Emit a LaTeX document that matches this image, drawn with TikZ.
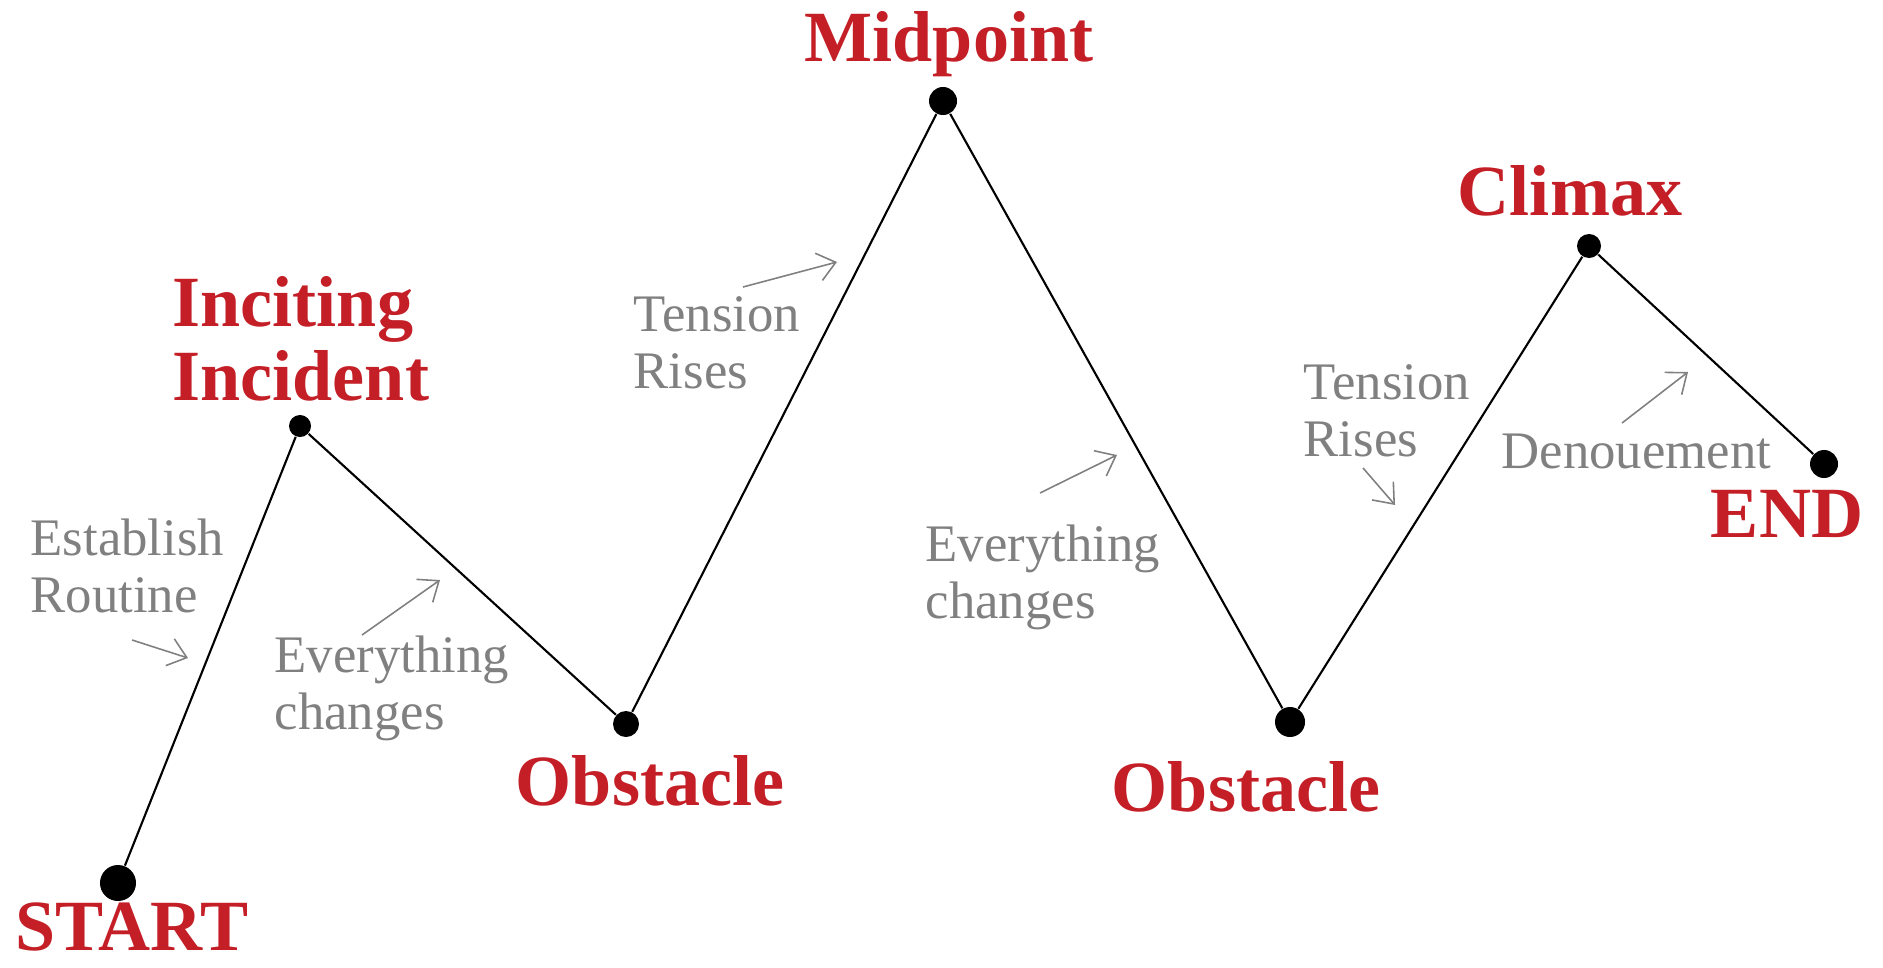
\documentclass[tikz,border=0pt]{standalone}
\usepackage{fontspec}
\setmainfont{Liberation Serif}
\usetikzlibrary{arrows.meta}

\definecolor{stagered}{RGB}{196,30,38}
\definecolor{notegray}{RGB}{128,128,128}

\begin{document}
\begin{tikzpicture}[x=0.01cm,y=-0.01cm,
dot/.style={circle,fill=black,inner sep=0pt,minimum size=#1},
stage/.style={text=stagered,font=\fontsize{20.5}{21}\selectfont\bfseries,inner sep=0pt,anchor=base},
note/.style={text=notegray,font=\fontsize{15}{16}\selectfont,inner sep=0pt,align=left,anchor=base west},
pointer/.style={draw=notegray,line width=0.45pt,-{Straight Barb[length=5pt,width=8pt]}}]
\useasboundingbox (0,0) rectangle (1883,967);

% plot points
\node[dot=0.36cm] (start) at (118,883) {};
\node[dot=0.22cm] (incite) at (300,426) {};
\node[dot=0.26cm] (obst1) at (626,724) {};
\node[dot=0.28cm] (mid) at (943,101) {};
\node[dot=0.30cm] (obst2) at (1290,722) {};
\node[dot=0.24cm] (climax) at (1589,246) {};
\node[dot=0.28cm] (finish) at (1824,464) {};
\draw[line width=0.6pt] (start)--(incite)--(obst1)--(mid)--(obst2)--(climax)--(finish);

% stage names (base = last line)
\node[stage] (startlbl) at (132,950) {START};
\node[stage,anchor=base west,align=left] (incitelbl) at (172,400) {Inciting\\Incident};
\node[stage] (obst1lbl) at (650,805) {Obstacle};
\node[stage] (midlbl) at (949,62) {Midpoint};
\node[stage] (obst2lbl) at (1246,811) {Obstacle};
\node[stage] (climaxlbl) at (1570,216) {Climax};
\node[stage] (finishlbl) at (1787,537) {END};

% notes
\node[note] (routine) at (30,612) {Establish\\Routine};
\node[note] (change1) at (274,729) {Everything\\changes};
\node[note] (rise1) at (633,388) {Tension\\Rises};
\node[note] (change2) at (925,618) {Everything\\changes};
\node[note] (rise2) at (1303,456) {Tension\\Rises};
\node[note] (denoue) at (1501,468) {Denouement};

% pointers
\coordinate (p1a) at (132,640); \coordinate (p1b) at (188,658);
\coordinate (p2a) at (362,635); \coordinate (p2b) at (440,580);
\coordinate (p3a) at (743,287); \coordinate (p3b) at (837,262);
\coordinate (p4a) at (1040,493); \coordinate (p4b) at (1117,455);
\coordinate (p5a) at (1363,468); \coordinate (p5b) at (1395,505);
\coordinate (p6a) at (1622,423); \coordinate (p6b) at (1688,372);
\draw[pointer] (p1a)--(p1b);
\draw[pointer] (p2a)--(p2b);
\draw[pointer] (p3a)--(p3b);
\draw[pointer] (p4a)--(p4b);
\draw[pointer] (p5a)--(p5b);
\draw[pointer] (p6a)--(p6b);
\end{tikzpicture}
\end{document}
